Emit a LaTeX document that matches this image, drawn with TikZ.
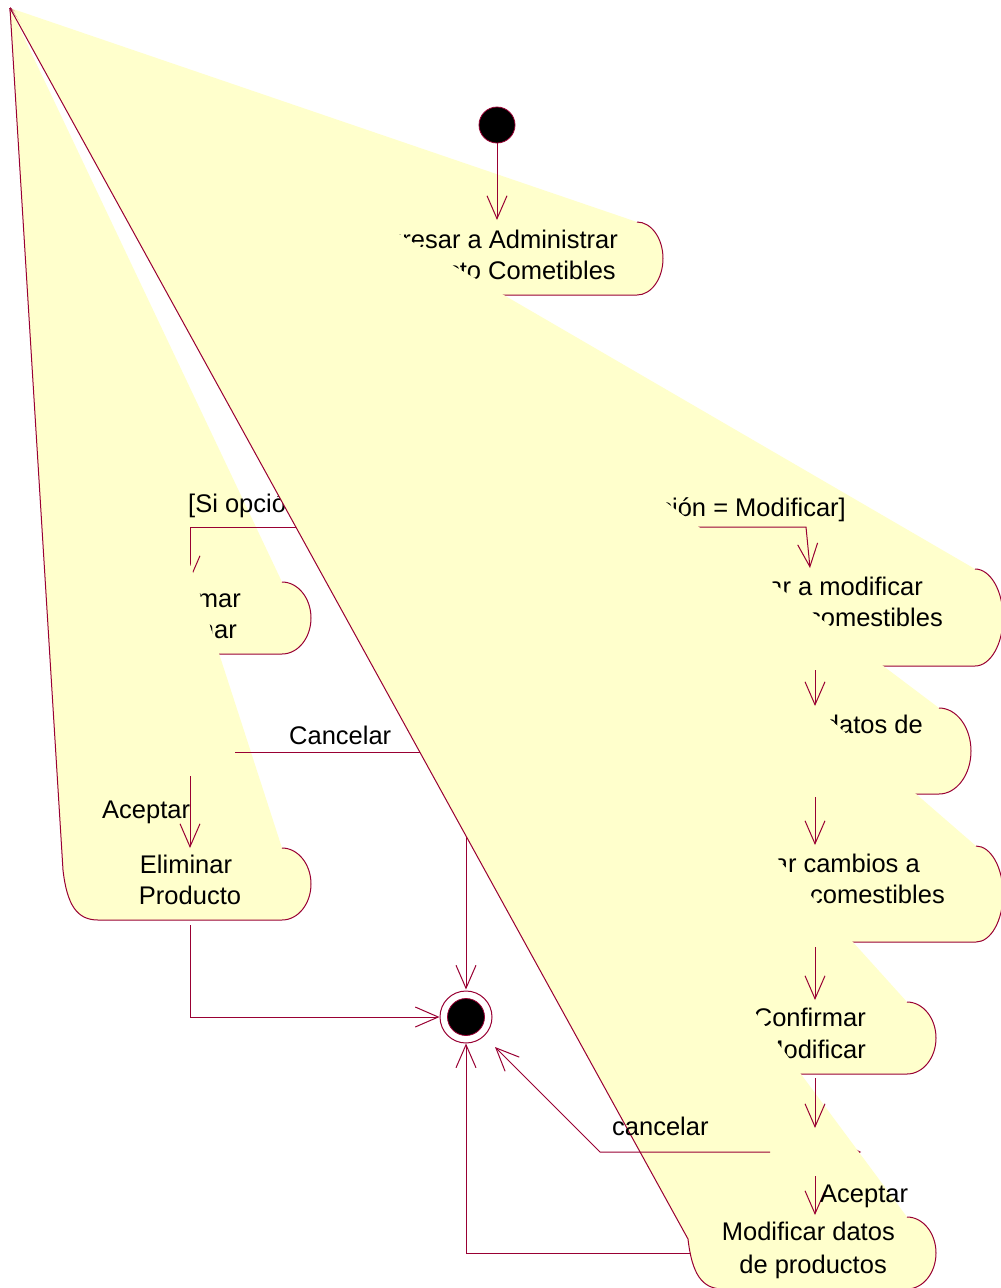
\documentclass[tikz,border=0pt]{standalone}
\usepackage{fontspec}
\setmainfont{Liberation Sans}
\usetikzlibrary{arrows.meta,shapes.geometric}

\definecolor{roseline}{RGB}{153,0,51}
\definecolor{rosefill}{RGB}{255,255,204}

\tikzset{
  actfill/.style={fill=rosefill},
  actline/.style={draw=roseline, line width=1pt, line join=round},
  actbox/.style={rectangle, draw=none, inner sep=0pt, outer sep=0pt},
  decision/.style={diamond, draw=roseline, fill=rosefill, line width=1pt,
    minimum width=90pt, minimum height=48pt, inner sep=0pt, outer sep=0pt},
  flow/.style={draw=roseline, line width=1pt, -{Straight Barb[length=23pt,width=20pt]}},
  lbl/.style={font=\fontsize{25.5}{30}\selectfont, inner sep=0pt, text=black},
}

% activity outline whose left end has collapsed onto the point (O):
% #1 left x, #2 right x, #3 top y, #4 bottom y, #5 corner radius
\newcommand\glitchact[5]{%
  \pgfmathsetmacro\gaym{(#3+#4)/2}%
  \pgfmathsetmacro\gakv{0.276*(#4-#3)}%
  \pgfmathsetmacro\gakx{#2-0.45*#5}%
  \fill[actfill] (O) -- ({#1-6},{#4-50}) .. controls ({#1-2},{#4-15}) and ({#1+8},{#4}) .. ({#1+29},{#4})
    -- ({#2-#5},{#4}) .. controls (\gakx,{#4}) and ({#2},{\gaym+\gakv}) .. ({#2},\gaym)
    .. controls ({#2},{\gaym-\gakv}) and (\gakx,{#3}) .. ({#2-#5},{#3}) -- cycle;
  \draw[actline] (O) -- ({#1-6},{#4-50}) .. controls ({#1-2},{#4-15}) and ({#1+8},{#4}) .. ({#1+29},{#4})
    -- ({#2-#5},{#4}) .. controls (\gakx,{#4}) and ({#2},{\gaym+\gakv}) .. ({#2},\gaym)
    .. controls ({#2},{\gaym-\gakv}) and (\gakx,{#3}) .. ({#2-#5},{#3});
}

\begin{document}
\begin{tikzpicture}[x=1pt,y=-1pt]
\useasboundingbox (0,0) rectangle (1001,1288);
\clip (0,0) rectangle (1001,1288);
\fill[white] (0,0) rectangle (1001,1288);
\coordinate (O) at (10,8);

% activity frames (used as connector anchors)
\node[actbox, minimum width=332pt, minimum height=73pt] (A)  at (497,258.5) {};
\node[actbox, minimum width=242pt, minimum height=72pt] (CE) at (190,618) {};
\node[actbox, minimum width=242pt, minimum height=72pt] (EP) at (190,884) {};
\node[actbox, minimum width=376pt, minimum height=97pt] (IM) at (815,617.5) {};
\node[actbox, minimum width=312pt, minimum height=86pt] (DD) at (815,751) {};
\node[actbox, minimum width=376pt, minimum height=96pt] (CC) at (815,894) {};
\node[actbox, minimum width=242pt, minimum height=72pt] (CM) at (815,1038) {};
\node[actbox, minimum width=242pt, minimum height=72pt] (MD) at (815,1253) {};

% decisions
\node[decision] (D1) at (497,527) {};
\node[decision] (Dl) at (190,752) {};
\node[decision] (D2) at (815,1152) {};

% end state ring
\node[circle, draw=roseline, line width=1pt, fill=white, minimum size=52pt, inner sep=0pt] (fin) at (466,1017) {};

% bend points
\coordinate (gR) at (806,527);
\coordinate (IMin) at (810,568);
\coordinate (cB) at (600,1152);
\coordinate (cT) at (495,1047);

% Ingresar a Administrar
\glitchact{331}{663}{222}{295}{26}
\node[lbl, anchor=base east] (A-t1) at (618,248) {Ingresar a Administrar};
\node[lbl, anchor=base east] (A-t2) at (616,279) {Producto Cometibles};

% start
\node[circle, fill=black, draw=roseline, line width=0.8pt, minimum size=36pt, inner sep=0pt] (init) at (497,125) {};
\draw[flow, shorten >=2pt] (init) -- (A.north);
\draw[flow] (A.south) -- (D1.north);

% Confirmar Eliminar
\glitchact{69}{311}{582}{654}{29}
\node[lbl, anchor=base east] (CE-t1) at (241,607) {Confirmar};
\node[lbl, anchor=base east] (CE-t2) at (237,638) {Eliminar};

% Ingresar a modificar
\glitchact{627}{1003}{569}{666}{28}
\node[lbl, anchor=base east] (IM-t1) at (923,595) {Ingresar a modificar};
\node[lbl, anchor=base east] (IM-t2) at (943,626) {productos comestibles};

% guards
\draw[flow] (D1.east) -- (gR) -- (IMin);
\node[lbl, anchor=base east] (g-mod) at (846,516) {[Si opción = Modificar]};
\draw[flow, shorten >=2pt] (D1.west) -| (CE.north);
\node[lbl, anchor=base west] (g-eli) at (188,512) {[Si opción = Eliminar]};
\draw[flow] (CE.south) -- (Dl.north);

% Eliminar Producto
\glitchact{69}{311}{848}{920}{29}
\node[lbl, anchor=base] (EP-t1) at (186,873) {Eliminar};
\node[lbl, anchor=base] (EP-t2) at (190,904) {Producto};

\draw[flow] (Dl.south) -- (EP.north);
\node[lbl, anchor=base west] (l-acep1) at (102,818) {Aceptar};
\draw[flow, shorten >=1pt] (Dl.east) -| (fin.north);
\node[lbl, anchor=base west] (l-canc1) at (289,744) {Cancelar};
\draw[flow, shorten <=5pt] (EP.south) |- (fin.west);

% datos de
\glitchact{659}{971}{708}{794}{32}
\node[lbl, anchor=base east] (DD-t1) at (923,733) {Ingresar datos de};
\draw[flow, shorten <=4pt, shorten >=2pt] (IM.south) -- (DD.north);

% cambios
\glitchact{627}{1003}{846}{942}{27}
\node[lbl, anchor=base east] (CC-t1) at (920,872) {Guardar cambios a};
\node[lbl, anchor=base east] (CC-t2) at (945,903) {productos comestibles};
\draw[flow, shorten <=3pt, shorten >=1pt] (DD.south) -- (CC.north);

% Confirmar Modificar
\glitchact{694}{936}{1002}{1074}{29}
\node[lbl, anchor=base east] (CM-t1) at (866,1026) {Confirmar};
\node[lbl, anchor=base east] (CM-t2) at (866,1058) {Modificar};
\draw[flow, shorten <=5pt, shorten >=2pt] (CC.south) -- (CM.north);

\draw[flow] (MD.west) -| (fin.south);

% Modificar datos de productos
\glitchact{694}{936}{1217}{1289}{29}
\node[lbl, anchor=base east] (MD-t1) at (895,1240) {Modificar datos};
\node[lbl, anchor=base east] (MD-t2) at (887,1273) {de productos};

\draw[flow, shorten <=4pt] (CM.south) -- (D2.north);
\draw[flow, shorten >=2pt] (D2.south) -- (MD.north);
\node[lbl, anchor=base west] (l-acep2) at (820,1202) {Aceptar};
\draw[flow] (D2.west) -- (cB) -- (cT);
\node[lbl, anchor=base west] (l-canc2) at (612,1135) {cancelar};

% end state core
\node[circle, fill=black, draw=roseline, line width=0.8pt, minimum size=37pt, inner sep=0pt] (fincore) at (fin) {};
\end{tikzpicture}
\end{document}
